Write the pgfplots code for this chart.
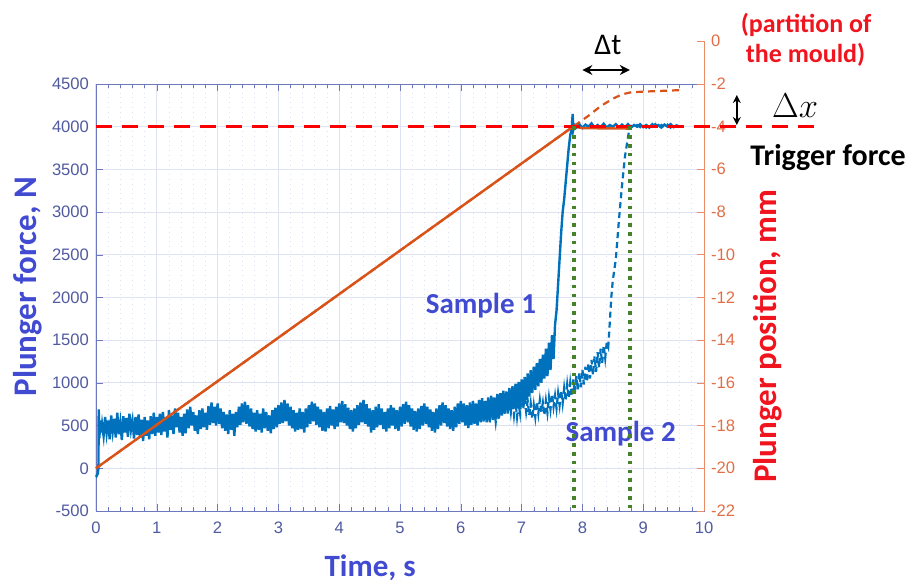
\documentclass[border=0pt]{standalone}
\usepackage{fontspec}
\setmainfont{Carlito}
\newfontfamily\tickfont{Liberation Sans}
\usepackage{pgfplots}
\pgfplotsset{compat=1.18}
\usetikzlibrary{arrows.meta}

\definecolor{axline}{RGB}{110,120,190}
\definecolor{ticklab}{RGB}{80,90,160}
\definecolor{gridc}{RGB}{222,226,242}
\definecolor{lblblue}{RGB}{65,75,210}
\definecolor{datablue}{RGB}{0,114,189}
\definecolor{morange}{RGB}{217,83,25}
\definecolor{rax}{RGB}{235,140,105}
\definecolor{raxlab}{RGB}{225,110,70}
\definecolor{redlab}{RGB}{240,20,30}
\definecolor{trig}{RGB}{250,0,0}
\definecolor{dgreen}{RGB}{70,130,40}

\begin{document}
\begin{tikzpicture}
\path[use as bounding box] (-48pt,-37.5pt) rectangle (407.5pt,255.5pt);

% force axis (left)
\begin{axis}[
    at={(0,0)}, anchor=south west,
    scale only axis, width=304pt, height=213.5pt,
    xmin=0, xmax=10, ymin=-500, ymax=4500,
    xtick={0,1,...,10}, ytick={-500,0,500,...,4500},
    minor x tick num=4,
    xtick pos=both, ytick pos=left,
    tick align=inside,
    major tick length=3.5pt, minor tick length=2pt,
    axis line style={draw=axline},
    tick style={draw=axline},
    xmajorgrids, xminorgrids, ymajorgrids,
    major grid style={draw=gridc, line width=0.5pt},
    minor grid style={draw=gridc, dotted},
    tick label style={font=\tickfont\fontsize{8.3}{9}\selectfont, text=ticklab},
    xticklabel style={yshift=-2pt},
    /pgf/number format/assume math mode=true,
    /pgf/number format/set thousands separator={},
    xlabel={Time, s}, ylabel={Plunger force, N},
    xlabel style={font=\bfseries\fontsize{15.5}{18}\selectfont, text=lblblue,
        at={(rel axis cs:0.451,-0.133)}, anchor=center},
    ylabel style={font=\bfseries\fontsize{16.5}{19}\selectfont, text=lblblue,
        at={(rel axis cs:-0.113,0.525)}, anchor=center, rotate=0},
    clip=false,
]
% Sample 2 (dashed)
\addplot[datablue, line width=1.1pt, dash pattern=on 3pt off 2pt] coordinates {
(6.300,800)(6.325,560)(6.350,760)(6.375,540)(6.400,780)(6.425,570)(6.450,740)(6.475,520)
(6.500,720)(6.525,560)(6.550,700)(6.575,540)(6.600,680)(6.625,560)(6.650,760)(6.675,600)
(6.700,820)(6.725,640)(6.750,860)(6.775,690)(6.800,840)(6.825,660)(6.850,800)(6.875,620)
(6.900,780)(6.925,600)(6.950,760)(6.975,640)(7.000,860)(7.025,690)(7.050,820)(7.075,660)
(7.100,790)(7.125,620)(7.150,760)(7.175,580)(7.200,740)(7.225,600)(7.250,780)(7.275,640)
(7.300,800)(7.325,660)(7.350,770)(7.375,620)(7.400,790)(7.425,650)(7.450,830)(7.475,690)
(7.500,870)(7.525,720)(7.550,850)(7.575,700)(7.600,880)(7.625,740)(7.650,910)(7.675,760)
(7.700,940)(7.725,790)(7.750,980)(7.775,820)(7.800,1000)(7.825,840)(7.850,1040)(7.875,880)
(7.900,1080)(7.925,920)(7.950,1120)(7.975,950)(8.000,1160)(8.025,980)(8.050,1190)(8.075,1010)
(8.100,1230)(8.125,1050)(8.150,1270)(8.175,1090)(8.200,1310)(8.225,1130)(8.250,1360)(8.275,1180)
(8.300,1400)(8.325,1230)(8.350,1440)(8.375,1290)(8.400,1470)(8.425,1420)(8.450,1700)(8.475,2000)
(8.500,2200)(8.550,2450)(8.600,2900)(8.650,3300)(8.700,3650)(8.750,3880)(8.780,4000)(8.800,4010)
(8.850,3990)(8.900,4020)(8.950,3995)(9.000,4025)(9.050,3990)(9.100,4020)(9.150,4000)(9.200,4030)
(9.250,3990)(9.300,4020)(9.350,3995)(9.400,4025)(9.450,3990)(9.500,4020)(9.550,4000)(9.600,4010)
};
% Sample 1 (solid)
\addplot[datablue, line width=1.2pt] coordinates {
(0,-80)(0.010,-90)(0.030,-60)(0.040,0)(0.045,690)(0.055,350)(0.070,560)(0.085,420)
(0.100,520)(0.125,380)(0.150,600)(0.175,410)(0.200,560)(0.225,340)(0.250,620)(0.275,430)
(0.300,580)(0.325,360)(0.350,650)(0.375,400)(0.400,540)(0.425,330)(0.450,610)(0.475,420)
(0.500,590)(0.525,370)(0.550,640)(0.575,450)(0.600,560)(0.625,350)(0.650,600)(0.675,390)
(0.700,630)(0.725,360)(0.750,570)(0.775,320)(0.800,600)(0.825,380)(0.850,560)(0.875,340)
(0.900,610)(0.925,400)(0.950,650)(0.975,380)(1.000,600)(1.025,420)(1.050,640)(1.075,390)
(1.100,660)(1.125,430)(1.150,600)(1.175,360)(1.200,680)(1.225,450)(1.250,620)(1.275,400)
(1.300,700)(1.325,480)(1.350,650)(1.375,420)(1.400,600)(1.425,380)(1.450,640)(1.475,410)
(1.500,690)(1.525,470)(1.550,720)(1.575,500)(1.600,660)(1.625,440)(1.650,620)(1.675,400)
(1.700,680)(1.725,460)(1.750,700)(1.775,480)(1.800,650)(1.825,450)(1.850,730)(1.875,510)
(1.900,770)(1.925,530)(1.950,720)(1.975,500)(2.000,760)(2.025,520)(2.050,700)(2.075,470)
(2.100,660)(2.125,440)(2.150,630)(2.175,400)(2.200,680)(2.225,450)(2.250,640)(2.275,380)
(2.300,660)(2.325,480)(2.350,720)(2.375,510)(2.400,760)(2.425,540)(2.450,780)(2.475,520)
(2.500,740)(2.525,490)(2.550,700)(2.575,460)(2.600,650)(2.625,430)(2.650,680)(2.675,450)
(2.700,640)(2.725,420)(2.750,700)(2.775,470)(2.800,660)(2.825,440)(2.850,620)(2.875,410)
(2.900,680)(2.925,460)(2.950,710)(2.975,480)(3.000,740)(3.025,520)(3.050,770)(3.075,530)
(3.100,800)(3.125,550)(3.150,760)(3.175,500)(3.200,720)(3.225,470)(3.250,680)(3.275,430)
(3.300,650)(3.325,450)(3.350,700)(3.375,460)(3.400,660)(3.425,420)(3.450,700)(3.475,480)
(3.500,740)(3.525,520)(3.550,780)(3.575,550)(3.600,760)(3.625,510)(3.650,720)(3.675,480)
(3.700,690)(3.725,440)(3.750,660)(3.775,430)(3.800,700)(3.825,470)(3.850,730)(3.875,500)
(3.900,690)(3.925,460)(3.950,720)(3.975,490)(4.000,760)(4.025,540)(4.050,790)(4.075,530)
(4.100,750)(4.125,500)(4.150,710)(4.175,460)(4.200,680)(4.225,430)(4.250,700)(4.275,470)
(4.300,740)(4.325,510)(4.350,770)(4.375,540)(4.400,800)(4.425,520)(4.450,750)(4.475,490)
(4.500,700)(4.525,420)(4.550,680)(4.575,450)(4.600,720)(4.625,480)(4.650,750)(4.675,510)
(4.700,700)(4.725,460)(4.750,660)(4.775,430)(4.800,700)(4.825,470)(4.850,740)(4.875,500)
(4.900,710)(4.925,460)(4.950,680)(4.975,440)(5.000,720)(5.025,490)(5.050,750)(5.075,520)
(5.100,780)(5.125,540)(5.150,740)(5.175,490)(5.200,700)(5.225,450)(5.250,670)(5.275,430)
(5.300,700)(5.325,460)(5.350,730)(5.375,500)(5.400,760)(5.425,520)(5.450,720)(5.475,480)
(5.500,690)(5.525,440)(5.550,660)(5.575,420)(5.600,700)(5.625,460)(5.650,740)(5.675,500)
(5.700,770)(5.725,530)(5.750,740)(5.775,490)(5.800,700)(5.825,460)(5.850,680)(5.875,440)
(5.900,720)(5.925,480)(5.950,760)(5.975,520)(6.000,790)(6.025,540)(6.050,760)(6.075,500)
(6.100,740)(6.125,470)(6.150,770)(6.175,510)(6.200,790)(6.225,520)(6.250,760)(6.275,500)
(6.300,800)(6.325,540)(6.350,820)(6.375,560)(6.400,790)(6.425,540)(6.450,830)(6.475,580)
(6.500,850)(6.525,590)(6.550,830)(6.575,580)(6.600,870)(6.625,610)(6.650,880)(6.675,630)
(6.700,910)(6.725,650)(6.750,900)(6.775,640)(6.800,940)(6.825,680)(6.850,960)(6.875,700)
(6.900,990)(6.925,720)(6.950,1010)(6.975,740)(7.000,1040)(7.025,770)(7.050,1070)(7.075,800)
(7.100,1110)(7.125,840)(7.150,1150)(7.175,880)(7.200,1190)(7.225,920)(7.250,1230)(7.275,960)
(7.300,1280)(7.325,1000)(7.350,1330)(7.375,1050)(7.400,1400)(7.425,1080)(7.450,1470)(7.475,1150)
(7.500,1560)(7.525,1280)(7.550,1680)(7.575,1850)(7.600,2150)(7.625,2450)(7.650,2750)(7.675,3000)
(7.700,3150)(7.725,3350)(7.750,3550)(7.775,3750)(7.800,3900)(7.825,3980)(7.840,4150)(7.850,3960)
(7.870,4020)(7.900,3990)(7.950,4030)(8.000,3985)(8.050,4025)(8.100,4000)(8.150,4040)(8.200,3990)
(8.250,4020)(8.300,3995)(8.350,4035)(8.400,3990)(8.450,4020)(8.500,4000)(8.550,4030)(8.600,3990)
(8.650,4025)(8.700,3995)(8.750,4030)(8.800,3990)(8.850,4020)(8.900,4000)(8.950,4030)(9.000,3995)
(9.050,4020)(9.100,3990)(9.150,4030)(9.200,4000)(9.250,4020)(9.300,3990)(9.350,4025)(9.400,4000)
(9.450,4030)(9.500,3995)(9.550,4015)(9.600,4000)
};
% annotations
\node[font=\bfseries\fontsize{14.5}{17}\selectfont, text=lblblue] at (axis cs:6.33,1900) {Sample 1};
\node[font=\bfseries\fontsize{14.5}{17}\selectfont, text=lblblue] at (axis cs:8.63,402) {Sample 2};
\node[font=\fontsize{15}{18}\selectfont] at (axis cs:8.42,4957) {Δt};
\draw[{Stealth[length=5pt,width=5pt]}-{Stealth[length=5pt,width=5pt]}, line width=0.9pt]
    (axis cs:8.0,4664) -- (axis cs:8.78,4664);
\draw[{Stealth[length=4pt,width=4pt]}-{Stealth[length=4pt,width=4pt]}, line width=0.9pt]
    (axis cs:10.54,4371) -- (axis cs:10.54,4020);
\node[font=\fontsize{16}{18}\selectfont] at (axis cs:11.5,4242) {$\Delta x$};
\node[font=\bfseries\fontsize{15}{18}\selectfont] at (axis cs:12.04,3645) {Trigger force};
\node[font=\bfseries\fontsize{13}{15}\selectfont, text=redlab] at (axis cs:11.68,5191) {(partition of};
\node[font=\bfseries\fontsize{13}{15}\selectfont, text=redlab] at (axis cs:11.67,4840) {the mould)};
\end{axis}

% position axis (right)
\begin{axis}[
    at={(0,0)}, anchor=south west,
    scale only axis, width=304pt, height=235pt,
    xmin=0, xmax=10, ymin=-22, ymax=0,
    hide x axis,
    axis y line*=right,
    ytick={-22,-20,...,0},
    tick align=inside,
    major tick length=3.5pt,
    axis line style={-, draw=rax},
    tick style={draw=rax},
    yticklabel style={font=\tickfont\fontsize{8.3}{9}\selectfont, text=raxlab},
    /pgf/number format/assume math mode=true,
    ylabel={Plunger position, mm},
    ylabel style={font=\bfseries\fontsize{16.5}{19}\selectfont, text=redlab,
        at={(rel axis cs:1.104,0.372)}, anchor=center, rotate=0},
    clip=false,
]
% Sample 2 position (dashed)
\addplot[morange, line width=1.1pt, dash pattern=on 3.5pt off 2.5pt] coordinates {
(0,-20)(7.85,-4.0)(8.1,-3.5)(8.3,-3.05)(8.5,-2.7)(8.65,-2.5)(8.8,-2.4)(9.0,-2.37)(9.6,-2.3)
};
% Sample 1 position (solid)
\addplot[morange, line width=1.2pt] coordinates {
(0,-20)(7.85,-4.0)(8.0,-4.08)(8.8,-4.1)
};
% trigger force
\addplot[trig, line width=1.4pt, dash pattern=on 8pt off 5pt] coordinates {(0,-4)(11.9,-4)};
% trigger instants
\addplot[dgreen, line width=2pt, dash pattern=on 1.8pt off 2.6pt] coordinates {(7.87,-4)(7.87,-22)};
\addplot[dgreen, line width=2pt, dash pattern=on 1.8pt off 2.6pt] coordinates {(8.79,-4)(8.79,-22)};
\end{axis}
\end{tikzpicture}
\end{document}
